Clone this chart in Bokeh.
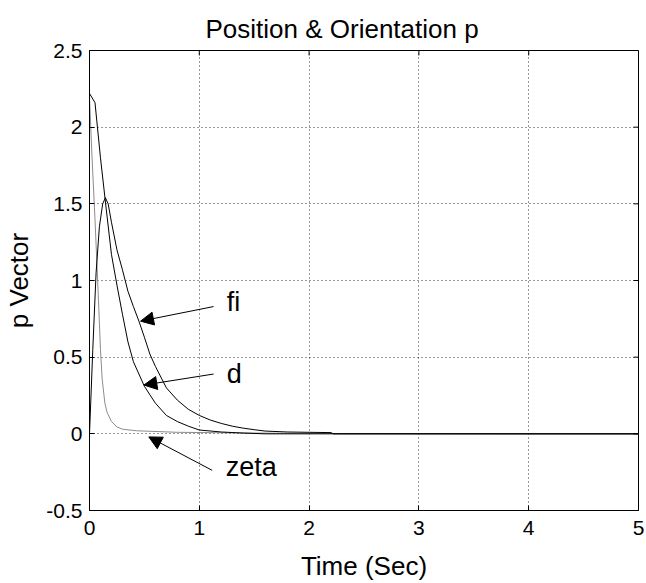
from bokeh.plotting import figure
from bokeh.models import (FixedTicker, Range1d, Arrow, NormalHead, Label, Title)
from bokeh.embed import file_html
from bokeh.resources import INLINE

# ---- data ----
t_d = [0, 0.05, 0.1, 0.15, 0.2, 0.25, 0.3, 0.35, 0.4, 0.5, 0.6, 0.7, 0.8,
       0.9, 1.0, 1.2, 1.4, 1.6, 5.0]
v_d = [2.22, 2.16, 1.80, 1.48, 1.17, 0.97, 0.78, 0.60, 0.47, 0.31, 0.20,
       0.12, 0.08, 0.05, 0.025, 0.012, 0.005, 0.0, 0.0]

t_fi = [0, 0.03, 0.06, 0.09, 0.12, 0.145, 0.17, 0.2, 0.25, 0.3, 0.35, 0.4,
        0.45, 0.5, 0.55, 0.6, 0.7, 0.8, 0.9, 1.0, 1.1, 1.2, 1.3, 1.4, 1.5,
        1.6, 1.8, 2.0, 2.2, 2.22, 5.0]
v_fi = [0.0, 0.55, 1.05, 1.35, 1.50, 1.54, 1.50, 1.38, 1.20, 1.07, 0.93,
        0.83, 0.735, 0.63, 0.52, 0.44, 0.30, 0.22, 0.16, 0.12, 0.09, 0.068,
        0.05, 0.037, 0.027, 0.018, 0.012, 0.010, 0.008, 0.0, 0.0]

t_zeta = [0, 0.02, 0.05, 0.08, 0.1, 0.115, 0.14, 0.16, 0.2, 0.25, 0.3, 0.43,
          0.8, 1.5, 2.2, 5.0]
v_zeta = [2.20, 1.85, 1.40, 0.90, 0.55, 0.36, 0.20, 0.14, 0.08, 0.045, 0.03,
          0.02, 0.01, 0.005, 0.002, 0.0]

x_ticks = [0, 1, 2, 3, 4, 5]
y_ticks = [-0.5, 0, 0.5, 1, 1.5, 2, 2.5]
y_tick_labels = ["-0.5", "0", "0.5", "1", "1.5", "2", "2.5"]

# annotations: label text, label position, arrow start, arrow tip
ann_text = ["fi", "d", "zeta"]
ann_text_xy = [(1.25, 0.86), (1.25, 0.39), (1.24, -0.214)]
ann_start = [(1.13, 0.83), (1.13, 0.39), (1.117, -0.238)]
ann_tip = [(0.465, 0.735), (0.495, 0.318), (0.54, -0.02)]

FONT = "Liberation Sans"
X0, X1 = 0, 5
Y0, Y1 = -0.5, 2.5

p = figure(width=646, height=583, output_backend="svg", toolbar_location=None,
           x_range=Range1d(X0, X1), y_range=Range1d(Y0, Y1),
           min_border_left=89, min_border_right=8, min_border_top=50,
           min_border_bottom=71)
p.title = Title(text="Position & Orientation p", align="left",
                vertical_align="top",
                text_font=FONT, text_font_size="26px", text_font_style="normal",
                text_color="black", offset=116, standoff=10)

p.line(t_zeta, v_zeta, line_color="#8c8c8c", line_width=1)
p.line(t_d, v_d, line_color="black", line_width=1)
p.line(t_fi, v_fi, line_color="black", line_width=1)

for txt, (tx, ty), (sx, sy), (ex, ey) in zip(ann_text, ann_text_xy, ann_start, ann_tip):
    p.add_layout(Arrow(end=NormalHead(size=13, fill_color="black", line_color="black"),
                       x_start=sx, y_start=sy, x_end=ex, y_end=ey,
                       line_color="black", line_width=1))
    p.add_layout(Label(x=tx, y=ty, text=txt, text_font=FONT, text_font_size="27px",
                       text_baseline="middle", text_align="left", text_color="black"))

# axes
for ax in (p.xaxis[0], p.yaxis[0]):
    ax.major_tick_in = 5
    ax.major_tick_out = 0
    ax.minor_tick_line_color = None
    ax.major_label_text_font = FONT
    ax.major_label_text_font_size = "21px"
    ax.major_label_text_color = "black"
    ax.axis_label_text_font = FONT
    ax.axis_label_text_font_size = "26px"
    ax.axis_label_text_font_style = "normal"
    ax.axis_label_text_color = "black"
    ax.axis_line_color = "black"
    ax.major_tick_line_color = "black"

p.xaxis[0].ticker = FixedTicker(ticks=x_ticks)
p.yaxis[0].ticker = FixedTicker(ticks=y_ticks)
p.yaxis[0].major_label_overrides = {v: s for v, s in zip(y_ticks, y_tick_labels)}
p.xaxis[0].axis_label = "Time (Sec)"
p.yaxis[0].axis_label = "p Vector"
p.xaxis[0].major_label_standoff = 10
p.xaxis[0].axis_label_standoff = 13
p.yaxis[0].major_label_standoff = 7
p.yaxis[0].axis_label_standoff = 9

# inward ticks on the top and right edges of the box
tick_dx = 5 / 549 * (X1 - X0)
tick_dy = 5 / 462 * (Y1 - Y0)
p.segment(x0=x_ticks, y0=[Y1] * len(x_ticks), x1=x_ticks,
          y1=[Y1 - tick_dy] * len(x_ticks), line_color="black", line_width=1)
p.segment(x0=[X1] * len(y_ticks), y0=y_ticks, x1=[X1 - tick_dx] * len(y_ticks),
          y1=y_ticks, line_color="black", line_width=1)

p.xgrid.ticker = FixedTicker(ticks=x_ticks)
p.ygrid.ticker = FixedTicker(ticks=y_ticks)
for g in (p.xgrid[0], p.ygrid[0]):
    g.grid_line_color = "black"
    g.grid_line_dash = "1 3"
    g.grid_line_width = 1
    g.grid_line_alpha = 0.8

p.outline_line_color = "black"
p.outline_line_width = 1
p.background_fill_color = "white"
p.border_fill_color = "white"

open("out.html", "w").write(file_html(p, INLINE))
